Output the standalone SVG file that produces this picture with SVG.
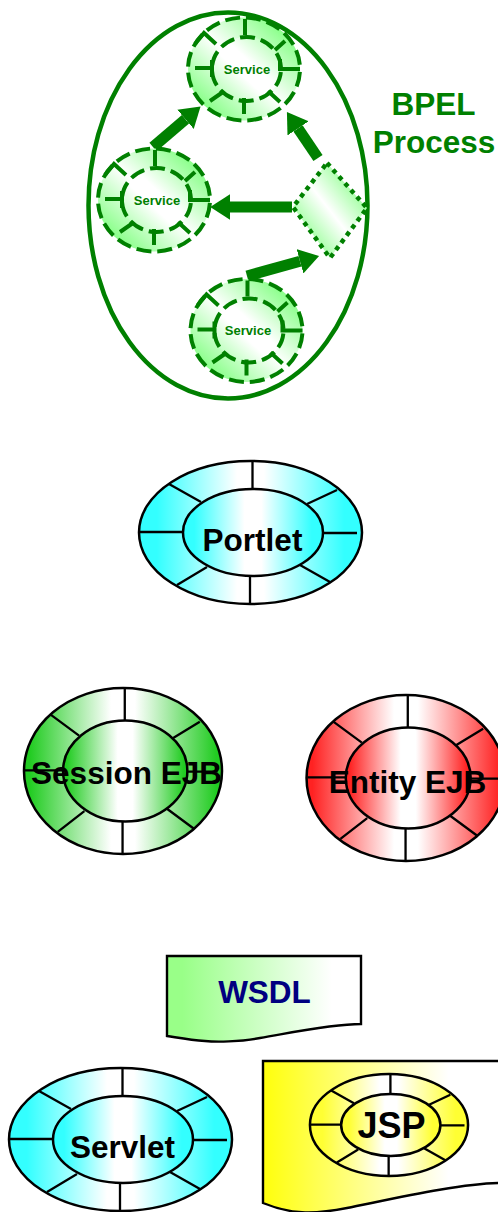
<svg xmlns="http://www.w3.org/2000/svg" xmlns:xlink="http://www.w3.org/1999/xlink" width="498" height="1212" viewBox="0 0 498 1212">
<style>
.t{font-family:"Liberation Sans",Arial,sans-serif;font-weight:bold;text-anchor:middle}
.k{font-size:31.5px;fill:#000}
.s{font-size:13px;fill:#008000}
.rl{stroke:#000;stroke-width:2.3;vector-effect:non-scaling-stroke}
.re{stroke:#000;stroke-width:2.5;vector-effect:non-scaling-stroke}
.sr{stroke:#008000;stroke-width:4;stroke-dasharray:15 6;stroke-dashoffset:18}
.sp{stroke:#008000;stroke-width:4;fill:none}
.ar{stroke:#008000;stroke-width:11;marker-end:url(#head)}
.doc{stroke:#000;stroke-width:2.4}
</style>
<defs>
<marker id="head" viewBox="0 0 1.8 2.3" markerWidth="1.8" markerHeight="2.3" refX="0" refY="1.15" orient="auto" markerUnits="strokeWidth"><path d="M0,0L1.8,1.15L0,2.3Z" fill="#008000"/></marker>
<linearGradient id="cy" x1="0" x2="1" y1="0" y2="0"><stop offset="0.08" stop-color="#33ffff"/><stop offset="0.44" stop-color="#fff"/><stop offset="0.56" stop-color="#fff"/><stop offset="0.92" stop-color="#33ffff"/></linearGradient>
<linearGradient id="gr" x1="0" x2="1" y1="0" y2="0"><stop offset="0.03" stop-color="#22cc22"/><stop offset="0.44" stop-color="#fff"/><stop offset="0.56" stop-color="#fff"/><stop offset="0.97" stop-color="#22cc22"/></linearGradient>
<linearGradient id="rd" x1="0" x2="1" y1="0" y2="0"><stop offset="0.03" stop-color="#ff2222"/><stop offset="0.44" stop-color="#fff"/><stop offset="0.56" stop-color="#fff"/><stop offset="0.97" stop-color="#ff2222"/></linearGradient>
<linearGradient id="ye" x1="0" x2="1" y1="0" y2="0"><stop offset="0.08" stop-color="#ffff33"/><stop offset="0.44" stop-color="#fff"/><stop offset="0.56" stop-color="#fff"/><stop offset="0.92" stop-color="#ffff33"/></linearGradient>
<linearGradient id="sv" x1="0" x2="1" y1="1" y2="0"><stop offset="0.14" stop-color="#88ff88"/><stop offset="0.5" stop-color="#fff"/><stop offset="0.86" stop-color="#88ff88"/></linearGradient>
<linearGradient id="svi" x1="0" x2="1" y1="1" y2="0"><stop offset="0.1" stop-color="#b8ffb8"/><stop offset="0.42" stop-color="#fff"/><stop offset="0.58" stop-color="#fff"/><stop offset="0.9" stop-color="#b8ffb8"/></linearGradient>
<linearGradient id="wd" x1="0" x2="1" y1="0" y2="0"><stop offset="0.08" stop-color="#99ff88"/><stop offset="0.85" stop-color="#fff"/></linearGradient>
<linearGradient id="jd" x1="0" x2="1" y1="0" y2="0"><stop offset="0.02" stop-color="#ffff11"/><stop offset="0.78" stop-color="#fff"/></linearGradient>
<g id="ring">
<ellipse class="re" rx="111.5" ry="71.5"/>
<path class="rl" fill="none" d="M2,-71.5V-43.5M-.5,43.5V71.5M-110.5,-.5H-68M69.5,.5H106.5M-81.5,-48.5L-49.5,-30.5M86.5,-42.5L56.5,-28.5M-73.5,52.5L-43.5,34.5M79.5,49.5L49.5,32.5"/>
<ellipse class="re" cx="2.500" rx="70" ry="43.500"/>
</g>
<g id="svc">
<ellipse class="sr" rx="56" ry="51.500"/>
<ellipse class="sr" cx="2.500" rx="34.500" ry="32" fill="url(#svi)"/>
<path class="sp" d="M1,-50V-34M-49,-25L-40,-36L-28,-25M31,-19L41,-28M-49,-1H-32M-32,-9V8M36,-10V0H56M-34,32L-21,23M24,22L36,33M0,29V45"/>
</g>
</defs>
<g id="bpel-process">
<ellipse cx="228" cy="205.500" rx="139.500" ry="193" fill="none" stroke="#008000" stroke-width="4.500"/>
<text class="t" x="433.500" y="115" font-size="31.5" fill="#008000">BPEL</text>
<text class="t" x="434" y="153" font-size="31.500" fill="#008000">Process</text>
</g>
<g id="connectors">
<line class="ar" x1="153" y1="147" x2="185.500" y2="119.300"/>
<line class="ar" x1="318" y1="158" x2="298" y2="128.400"/>
<line class="ar" x1="292" y1="207" x2="230" y2="207"/>
<line class="ar" x1="247" y1="276" x2="300" y2="261.300"/>
</g>
<g id="service-1"><use xlink:href="#svc" href="#svc" x="244" y="69" fill="url(#sv)"/><text class="t s" x="247" y="74">Service</text></g>
<g id="service-2"><use xlink:href="#svc" href="#svc" x="154" y="200" fill="url(#sv)"/><text class="t s" x="157" y="205">Service</text></g>
<g id="service-3"><use xlink:href="#svc" href="#svc" x="246.500" y="330.500" fill="url(#sv)"/><text class="t s" x="248" y="335">Service</text></g>
<g id="gateway"><path d="M327,163L367,208L330,258L293,207Z" fill="url(#sv)" stroke="#008000" stroke-width="4.500" stroke-dasharray="4.500 4.500"/></g>
<g id="portlet"><use xlink:href="#ring" href="#ring" transform="translate(250.500 532.500)" fill="url(#cy)"/><text class="t k" x="252.500" y="551">Portlet</text></g>
<g id="session-ejb"><use xlink:href="#ring" href="#ring" transform="translate(123 771) scale(.888 1.161)" fill="url(#gr)"/><text class="t k" x="126.500" y="784">Session EJB</text></g>
<g id="entity-ejb"><use xlink:href="#ring" href="#ring" transform="translate(406 778) scale(.892 1.161)" fill="url(#rd)"/><text class="t k" x="407.500" y="793">Entity EJB</text></g>
<g id="wsdl"><path class="doc" fill="url(#wd)" d="M167,956H361V1024C330,1024 290,1033 260,1038C240,1042 215,1042 205,1041C190,1040 180,1038 167,1036Z"/><text class="t" x="264.500" y="1003" font-size="31.500" fill="#000080">WSDL</text></g>
<g id="servlet"><use xlink:href="#ring" href="#ring" transform="translate(120.500 1139.500)" fill="url(#cy)"/><text class="t k" x="122.500" y="1158">Servlet</text></g>
<g id="jsp"><path class="doc" fill="url(#jd)" d="M263,1061H501V1183C462,1183 392,1199 347,1208C312,1215 290,1214 263,1203Z"/><use xlink:href="#ring" href="#ring" transform="translate(389 1125) scale(.709 .713)" fill="url(#ye)"/><text class="t" x="391.500" y="1138" font-size="36" fill="#000">JSP</text></g>
</svg>
